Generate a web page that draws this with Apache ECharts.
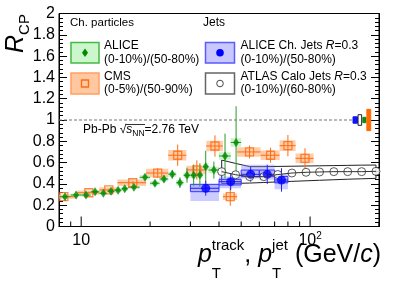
<!DOCTYPE html>
<html><head><meta charset="utf-8">
<script src="https://cdn.jsdelivr.net/npm/echarts@6/dist/echarts.min.js"></script>
<style>html,body{margin:0;padding:0;background:#fff}#c{width:399px;height:283px}</style>
</head><body><div id="c"></div>
<script>
// ---------------- data ----------------
// ALICE charged particles (0-10%)/(50-80%)
const alicePt   = [8.5,9.5,10.5,11.5,12.5,13.5,14.5,15.5,17,19,21,23,25,27,29,31,33,35,38,42.5,47.5];
const aliceLo   = [8,9,10,11,12,13,14,15,16,18,20,22,24,26,28,30,32,34,36,40,45];
const aliceHi   = [9,10,11,12,13,14,15,16,18,20,22,24,26,28,30,32,34,36,40,45,50];
const aliceRcp  = [0.28,0.296,0.295,0.327,0.312,0.331,0.341,0.354,0.369,0.462,0.406,0.446,0.491,0.411,0.481,0.481,0.484,0.561,0.53,0.662,0.789];
const aliceStat = [0.01,0.01,0.012,0.013,0.014,0.015,0.016,0.018,0.018,0.022,0.025,0.03,0.04,0.05,0.07,0.1,0.11,0.15,0.08,0.21,0.34];
const aliceSys  = [0.015,0.015,0.015,0.015,0.015,0.015,0.016,0.016,0.017,0.02,0.02,0.022,0.024,0.025,0.025,0.026,0.027,0.03,0.03,0.035,0.04];
// CMS charged particles (0-5%)/(50-90%)
const cmsPt   = [8.4,10.8,13.2,16.8,21.6,26.4,32,38.4,44.8,54.4,67.2,80,95];
const cmsLo   = [7.2,9.6,12,14.4,19.2,24,28.8,35.2,41.6,48,60.8,73.6,86.4];
const cmsHi   = [9.6,12,14.4,19.2,24,28.8,35.2,41.6,48,60.8,73.6,86.4,103.6];
const cmsRcp  = [0.28,0.317,0.343,0.411,0.502,0.669,0.531,0.756,0.28,0.70,0.669,0.759,0.64];
const cmsStat = [0.01,0.01,0.012,0.015,0.045,0.1,0.09,0.1,0.085,0.06,0.07,0.1,0.095];
const cmsSys  = [0.02,0.02,0.025,0.03,0.04,0.05,0.04,0.05,0.03,0.045,0.045,0.05,0.045];
// ALICE charged jets R=0.3 (0-10%)/(50-80%)
const jetPt     = [35,45,55,65,75];
const jetLo     = [30,40,50,60,70];
const jetHi     = [40,50,60,70,80];
const jetRcp    = [0.359,0.421,0.49,0.49,0.437];
const jetStat   = [0.07,0.08,0.07,0.09,0.11];
const jetSysLo  = [0.24,0.36,0.45,0.44,0.35];
const jetSysHi  = [0.40,0.47,0.58,0.58,0.49];
const jetShpLo  = [0.327,0.39,0.468,0.468,0.41];
const jetShpHi  = [0.396,0.443,0.53,0.53,0.47];
// ATLAS calo jets R=0.3 (0-10%)/(60-80%)
const atlasPt  = [41.1,47.3,54.5,62.8,72.3,83.3,96,110,127,146,168,194];
const atlasRcp = [0.515,0.486,0.468,0.468,0.488,0.502,0.509,0.512,0.515,0.515,0.515,0.518];
const atlasUp  = [0.624,0.592,0.562,0.562,0.564,0.566,0.568,0.570,0.572,0.574,0.576,0.577];
const atlasDn  = [0.405,0.405,0.408,0.413,0.419,0.424,0.429,0.434,0.439,0.444,0.448,0.452];
// normalisation uncertainties at R=1 (blue, black, green, orange)
const normLo  = [154,162,170,177];
const normHi  = [161,168,175.5,184];
const normErr = [0.03,0.05,0.025,0.1];
const refLineX = [8,153];
// axis ticks
const xMajorTicks = [10,100];
const xMinorTicks = [9,20,30,40,50,60,70,80,90,200];

// ---------------- helpers ----------------
const FONT = '"Liberation Sans", Arial, Helvetica, sans-serif';
const cv = document.createElement('canvas').getContext('2d');
function fstr(s){ return (s.italic?'italic ':'') + s.size + 'px ' + FONT; }
function runs(x0, base, segs, alignRight){
  let widths = segs.map(s => { cv.font = fstr(s); return cv.measureText(s.t).width; });
  let total = 0; segs.forEach((s,i)=>{ if(!s.stack) total += widths[i]; });
  let x = alignRight ? x0 - total : x0;
  const out = [];
  segs.forEach((s,i)=>{
    out.push({type:'text', x: x, y: base + (s.dy||0) - 0.3465*s.size, silent:true,
      style:{text:s.t, font:fstr(s), fill:'#000', align:'left', verticalAlign:'middle'}});
    if(!s.stack) x += widths[i];
  });
  out.endX = x;
  return out;
}
function rows4(a,b,c,d){ return a.map((v,i)=>[v,b[i],c[i],d[i]]); }
function boxSeries(data, fill, stroke, lw, opacity){
  return {type:'custom', clip:true, silent:true, data:data, encode:{x:[0,1], y:[2,3]},
    renderItem:(p,api)=>{
      const a = api.coord([api.value(0), api.value(3)]);
      const b = api.coord([api.value(1), api.value(2)]);
      return {type:'rect', shape:{x:a[0], y:a[1], width:b[0]-a[0], height:b[1]-a[1]},
        style:{fill:fill, stroke:stroke, lineWidth:lw, opacity:opacity==null?1:opacity}};
    }};
}
function vbarSeries(xs, ys, es, color, lw){
  return {type:'custom', clip:true, silent:true,
    data: xs.map((x,i)=>[x,x,ys[i]-es[i],ys[i]+es[i]]), encode:{x:[0,1], y:[2,3]},
    renderItem:(p,api)=>{
      const a = api.coord([api.value(0), api.value(2)]);
      const b = api.coord([api.value(0), api.value(3)]);
      return {type:'line', shape:{x1:a[0],y1:a[1],x2:b[0],y2:b[1]}, style:{stroke:color, lineWidth:lw}};
    }};
}
function hbarSeries(lo, hi, ys, color, lw){
  return {type:'custom', clip:true, silent:true,
    data: lo.map((l,i)=>[l,hi[i],ys[i],ys[i]]), encode:{x:[0,1], y:[2,3]},
    renderItem:(p,api)=>{
      const a = api.coord([api.value(0), api.value(2)]);
      const b = api.coord([api.value(1), api.value(2)]);
      return {type:'line', shape:{x1:a[0],y1:a[1],x2:b[0],y2:b[1]}, style:{stroke:color, lineWidth:lw}};
    }};
}
function tickSeries(vals, len){
  return {type:'custom', clip:false, silent:true, data: vals.map(v=>[v,v,0,0]), encode:{x:[0,1], y:[2,3]},
    renderItem:(p,api)=>{
      const a = api.coord([api.value(0), 0]);
      return {type:'line', shape:{x1:a[0],y1:a[1],x2:a[0],y2:a[1]-len}, style:{stroke:'#000', lineWidth:1}};
    }};
}

// ---------------- chart ----------------
const chart = echarts.init(document.getElementById('c'), null, {renderer:'canvas'});

const series = [];
// ATLAS band
series.push({type:'custom', clip:true, silent:true, data:[[atlasPt[0], atlasPt[atlasPt.length-1], 0.4, 0.6]],
  encode:{x:[0,1], y:[2,3]},
  renderItem:(p,api)=>{
    const pts = [];
    atlasPt.forEach((x,i)=>pts.push(api.coord([x, atlasUp[i]])));
    for(let i=atlasPt.length-1;i>=0;i--) pts.push(api.coord([atlasPt[i], atlasDn[i]]));
    return {type:'polygon', shape:{points:pts}, style:{fill:'none', stroke:'#222', lineWidth:1}};
  }});
// systematic boxes
series.push(boxSeries(rows4(jetLo, jetHi, jetSysLo, jetSysHi), 'rgba(120,120,255,0.38)', 'none', 0));
series.push(boxSeries(rows4(jetLo, jetHi, jetShpLo, jetShpHi), 'rgba(110,110,255,0.25)', '#3535ff', 1));
series.push(boxSeries(rows4(cmsLo, cmsHi, cmsRcp.map((y,i)=>y-cmsSys[i]), cmsRcp.map((y,i)=>y+cmsSys[i])), '#ffc49a', 'none', 0, 0.85));
series.push(boxSeries(rows4(aliceLo, aliceHi, aliceRcp.map((y,i)=>y-aliceSys[i]), aliceRcp.map((y,i)=>y+aliceSys[i])), '#c4f2c4', 'none', 0, 0.9));
// reference line at 1
series.push({type:'line', silent:true, data: refLineX.map(x=>[x,1]), symbol:'none',
  lineStyle:{color:'#777', width:1, type:[3,2]}});
// ATLAS connecting line
series.push({type:'line', silent:true, data: atlasPt.map((x,i)=>[x, atlasRcp[i]]), symbol:'none',
  lineStyle:{color:'#333', width:1}});
// error bars
series.push(hbarSeries(cmsLo, cmsHi, cmsRcp, '#ff6a10', 1));
series.push(vbarSeries(cmsPt, cmsRcp, cmsStat, '#ff6a10', 1));
series.push(hbarSeries(aliceLo, aliceHi, aliceRcp, '#2a9a2a', 1));
series.push(vbarSeries(alicePt, aliceRcp, aliceStat, '#2a9a2a', 1));
series.push(hbarSeries(jetLo, jetHi, jetRcp, '#2020ff', 1));
series.push(vbarSeries(jetPt, jetRcp, jetStat, '#2020ff', 1));
// normalisation boxes
const normColors = [['#1010ff','#1010ff'],['#ffffff','#222'],['#108a10','#108a10'],['#ff6a00','#ff6a00']];
normLo.forEach((lo,i)=>{
  series.push(boxSeries([[lo, normHi[i], 1-normErr[i], 1+normErr[i]]], normColors[i][0], normColors[i][1], 1));
});
// markers
series.push({type:'scatter', silent:true, data: atlasPt.map((x,i)=>[x, atlasRcp[i]]), symbol:'circle', symbolSize:8,
  itemStyle:{color:'#fff', borderColor:'#333', borderWidth:1}});
series.push({type:'scatter', silent:true, data: cmsPt.map((x,i)=>[x, cmsRcp[i]]), symbol:'rect', symbolSize:8,
  itemStyle:{color:'rgba(255,255,255,0)', borderColor:'#ff6a10', borderWidth:1.3}});
series.push({type:'scatter', silent:true, data: alicePt.map((x,i)=>[x, aliceRcp[i]]), symbol:'diamond', symbolSize:[6,9],
  itemStyle:{color:'#008a00'}});
series.push({type:'scatter', silent:true, data: jetPt.map((x,i)=>[x, jetRcp[i]]), symbol:'circle', symbolSize:9,
  itemStyle:{color:'#0000ff'}});
// x-axis ticks
series.push(tickSeries(xMajorTicks, 10));
series.push(tickSeries(xMinorTicks, 5));

// ---------------- text / legend graphics ----------------
const g = [];
// y title R_CP rotated
const yt = runs(0, 0, [{t:'R', size:25, italic:true},{t:'CP', size:15, dy:5}]);
g.push({type:'group', x:25, y:53, rotation:Math.PI/2, silent:true, children: yt.slice()});
// x title
const xt = runs(381, 264, [
  {t:'p', size:25, italic:true},{t:'T', size:15, dy:15, stack:true},{t:'track', size:15, dy:-13},
  {t:', ', size:25},
  {t:'p', size:25, italic:true},{t:'T', size:15, dy:15, stack:true},{t:'jet', size:15, dy:-13},
  {t:' (GeV/', size:25},{t:'c', size:25, italic:true},{t:')', size:25}], true);
xt.forEach(e=>g.push(e));
// Pb-Pb label
const pb1 = runs(83, 134, [{t:'Pb-Pb ', size:12},{t:'\u221A', size:12}]);
pb1.forEach(e=>g.push(e));
const pb2 = runs(pb1.endX, 134, [{t:'s', size:12, italic:true},{t:'NN', size:8.5, dy:3}]);
pb2.forEach(e=>g.push(e));
g.push({type:'line', silent:true, shape:{x1:pb1.endX-0.5, y1:124.5, x2:pb2.endX+0.5, y2:124.5}, style:{stroke:'#000', lineWidth:0.8}});
runs(pb2.endX, 134, [{t:'=2.76 TeV', size:12}]).forEach(e=>g.push(e));
// legend headers
runs(70, 27, [{t:'Ch. particles', size:11.5}]).forEach(e=>g.push(e));
runs(203, 27, [{t:'Jets', size:12}]).forEach(e=>g.push(e));
// legend boxes
g.push({type:'rect', silent:true, shape:{x:71, y:42.5, width:28, height:20.5}, style:{fill:'#ccf7cc', stroke:'#44bb44', lineWidth:1.5}});
g.push({type:'polygon', silent:true, shape:{points:[[85,48.5],[88,52.8],[85,57],[82,52.8]]}, style:{fill:'#008a00'}});
g.push({type:'rect', silent:true, shape:{x:71, y:73, width:28, height:21}, style:{fill:'#ffc8a0', stroke:'#ffa060', lineWidth:1.5}});
g.push({type:'rect', silent:true, shape:{x:81.5, y:80, width:7, height:7}, style:{fill:'none', stroke:'#ff6a10', lineWidth:1.3}});
g.push({type:'rect', silent:true, shape:{x:205.5, y:42.5, width:29, height:20.5}, style:{fill:'#c8c8ff', stroke:'#5a5aff', lineWidth:1.5}});
g.push({type:'circle', silent:true, shape:{cx:220, cy:52.8, r:3.8}, style:{fill:'#0000ff'}});
g.push({type:'rect', silent:true, shape:{x:205.5, y:73, width:29, height:21}, style:{fill:'#fff', stroke:'#666', lineWidth:1.5}});
g.push({type:'circle', silent:true, shape:{cx:220, cy:83.5, r:3.3}, style:{fill:'#fff', stroke:'#444', lineWidth:1}});
// legend texts
const LX = 104, RX = 240.5;
runs(LX, 50, [{t:'ALICE', size:12}]).forEach(e=>g.push(e));
runs(LX, 63.5, [{t:'(0-10%)/(50-80%)', size:12}]).forEach(e=>g.push(e));
runs(LX, 81, [{t:'CMS', size:12}]).forEach(e=>g.push(e));
runs(LX, 94, [{t:'(0-5%)/(50-90%)', size:12}]).forEach(e=>g.push(e));
runs(RX, 50, [{t:'ALICE Ch. Jets ', size:12},{t:'R', size:12, italic:true},{t:'=0.3', size:12}]).forEach(e=>g.push(e));
runs(RX, 63.5, [{t:'(0-10%)/(50-80%)', size:12}]).forEach(e=>g.push(e));
runs(RX, 81, [{t:'ATLAS Calo Jets ', size:12},{t:'R', size:12, italic:true},{t:'=0.3', size:12}]).forEach(e=>g.push(e));
runs(RX, 94, [{t:'(0-10%)/(60-80%)', size:12}]).forEach(e=>g.push(e));

const option = {
  animation:false,
  backgroundColor:'#fff',
  textStyle:{fontFamily:FONT},
  grid:{left:59, right:20, top:13.5, bottom:56.5, show:true, borderColor:'#000', borderWidth:1, backgroundColor:'rgba(0,0,0,0)', containLabel:false, outerBoundsMode:'none'},
  xAxis:[{type:'log', logBase:10, min:8, max:200,
    axisLine:{show:true, lineStyle:{color:'#000', width:1}},
    axisTick:{show:false}, minorTick:{show:false}, splitLine:{show:false}, minorSplitLine:{show:false},
    axisLabel:{show:true, margin:5, color:'#000', fontSize:16, fontFamily:FONT, showMinLabel:true, showMaxLabel:true, hideOverlap:false,
      formatter:(v)=>{ if(Math.abs(v-10)<1e-6) return '{a|10}'; if(Math.abs(v-100)<1e-4) return '{a|10}{b|2}'; return ''; },
      rich:{a:{fontSize:16, lineHeight:18, fontFamily:FONT, color:'#000', verticalAlign:'middle'}, b:{fontSize:10, lineHeight:10, fontFamily:FONT, color:'#000', verticalAlign:'top'}}}
  }],
  yAxis:[
    {type:'value', min:0, max:2, interval:0.2, position:'left',
      axisLine:{show:true, lineStyle:{color:'#000'}},
      axisTick:{show:true, inside:true, length:8, lineStyle:{color:'#000'}},
      minorTick:{show:true, splitNumber:5, length:4, lineStyle:{color:'#000'}},
      splitLine:{show:false},
      axisLabel:{show:true, margin:4, color:'#000', fontSize:16, fontFamily:FONT, showMinLabel:true, showMaxLabel:true, hideOverlap:false}},
    {type:'value', min:0, max:2, interval:0.2, position:'right',
      axisLine:{show:true, lineStyle:{color:'#000'}},
      axisTick:{show:true, inside:true, length:8, lineStyle:{color:'#000'}},
      minorTick:{show:true, splitNumber:5, length:4, lineStyle:{color:'#000'}},
      splitLine:{show:false}, axisLabel:{show:false}}
  ],
  series: series,
  graphic: g
};
chart.setOption(option);
</script></body></html>
